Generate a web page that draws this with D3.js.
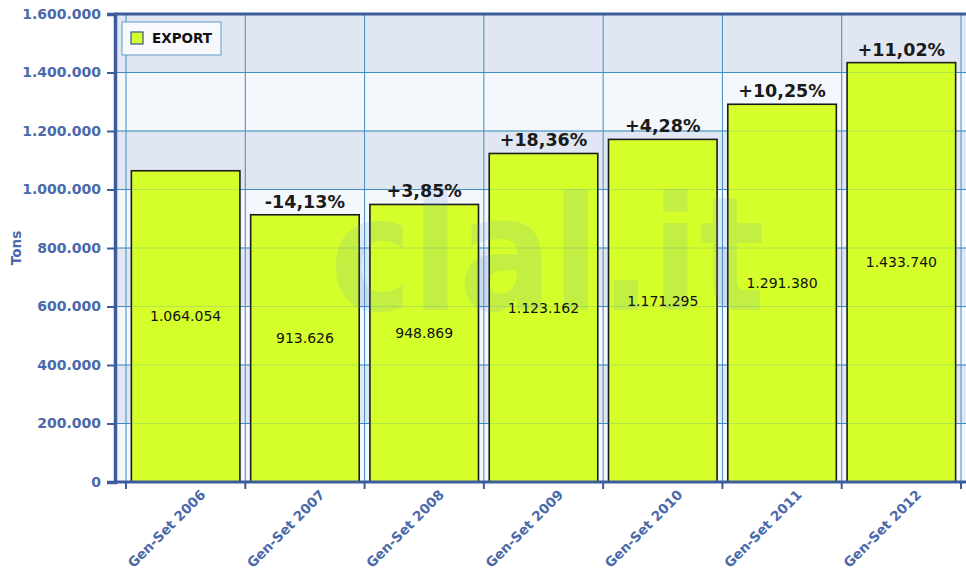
<!DOCTYPE html>
<html>
<head>
<meta charset="utf-8">
<script src="https://cdn.jsdelivr.net/npm/d3@7"></script>
<style>
  body { margin: 0; background: #fff; }
  text { font-family: "DejaVu Sans", Verdana, sans-serif; }
</style>
</head>
<body>
<svg width="966" height="577"></svg>
<script>
  // data
  const categories = ["Gen-Set 2006", "Gen-Set 2007", "Gen-Set 2008", "Gen-Set 2009", "Gen-Set 2010", "Gen-Set 2011", "Gen-Set 2012"];
  const exportTons = [1064054, 913626, 948869, 1123162, 1171295, 1291380, 1433740];
  const changeLabels = ["", "-14,13%", "+3,85%", "+18,36%", "+4,28%", "+10,25%", "+11,02%"];
  const yTicks = [0, 200000, 400000, 600000, 800000, 1000000, 1200000, 1400000, 1600000];

  const svg = d3.select("svg"),
      width = +svg.attr("width"),
      height = +svg.attr("height");

  const axisBlue = "#3d5c9c",
      labelBlue = "#4a69a9",
      gridBlue = "#3f8fc0";

  const it = d3.formatLocale({ decimal: ",", thousands: ".", grouping: [3], currency: ["", ""] });
  const fmt = it.format(",d");

  const plotLeft = 115, plotTop = 14, plotBottom = 482;

  const y = d3.scaleLinear()
      .domain([0, 1600000])
      .range([plotBottom, plotTop]);

  const x = d3.scaleBand()
      .domain(categories)
      .range([126, 961])
      .paddingInner(0.09)
      .paddingOuter(0.045);
  const step = x.step();

  // background bands
  const bands = yTicks.slice(0, -1);
  svg.append("g")
      .selectAll("rect")
      .data(bands)
      .join("rect")
      .attr("x", plotLeft)
      .attr("width", width - plotLeft)
      .attr("y", d => y(d + 200000))
      .attr("height", d => y(d) - y(d + 200000))
      .attr("fill", (d, i) => i % 2 ? "#e0e7f2" : "#f4f7fc");

  // grid under bars
  const grid = svg.append("g");
  grid.selectAll("line.h")
      .data(yTicks.slice(1))
      .join("line")
      .attr("class", "h")
      .attr("x1", plotLeft).attr("x2", width)
      .attr("y1", d => y(d)).attr("y2", d => y(d))
      .attr("stroke", gridBlue).attr("stroke-width", 1);
  const vlines = d3.range(categories.length + 1).map(i => 126 + i * step);
  grid.selectAll("line.v")
      .data(vlines)
      .join("line")
      .attr("class", "v")
      .attr("x1", d => d).attr("x2", d => d)
      .attr("y1", plotTop).attr("y2", plotBottom)
      .attr("stroke", gridBlue).attr("stroke-width", 1);

  // bars
  svg.append("g")
      .selectAll("rect")
      .data(exportTons)
      .join("rect")
      .attr("x", (d, i) => x(categories[i]))
      .attr("width", x.bandwidth())
      .attr("y", d => y(d))
      .attr("height", d => y(0) - y(d))
      .attr("fill", "#d4ff2a")
      .attr("stroke", "#1c1c1c")
      .attr("stroke-width", 1.6);

  // faint grid over bars
  svg.append("g")
      .selectAll("line")
      .data(yTicks.slice(1))
      .join("line")
      .attr("x1", plotLeft).attr("x2", width)
      .attr("y1", d => y(d)).attr("y2", d => y(d))
      .attr("stroke", gridBlue).attr("stroke-opacity", 0.22);

  // watermark
  svg.append("text")
      .attr("x", 330)
      .attr("y", 310)
      .attr("textLength", 435)
      .attr("lengthAdjust", "spacingAndGlyphs")
      .style("font-size", "158px")
      .style("font-weight", "bold")
      .attr("fill", "#5f86d6")
      .attr("fill-opacity", 0.14)
      .text("clal.it");

  // value labels
  svg.append("g")
      .selectAll("text")
      .data(exportTons)
      .join("text")
      .attr("x", (d, i) => x(categories[i]) + x.bandwidth() / 2)
      .attr("y", d => (y(d) + y(0)) / 2 - 10)
      .attr("dy", "0.35em")
      .attr("text-anchor", "middle")
      .style("font-size", "14px")
      .attr("fill", "#111")
      .text(d => fmt(d));

  // change labels
  svg.append("g")
      .selectAll("text")
      .data(changeLabels)
      .join("text")
      .attr("x", (d, i) => x(categories[i]) + x.bandwidth() / 2)
      .attr("y", (d, i) => y(exportTons[i]) - 7)
      .attr("text-anchor", "middle")
      .style("font-size", "17.5px")
      .style("font-weight", "bold")
      .attr("fill", "#1a1a1a")
      .text(d => d);

  // y axis
  const yAxis = svg.append("g")
      .attr("transform", `translate(${plotLeft},0)`)
      .call(d3.axisLeft(y).tickValues(yTicks).tickFormat(fmt).tickSize(8).tickPadding(6));
  yAxis.select(".domain").attr("stroke", axisBlue).attr("stroke-width", 3.5);
  yAxis.selectAll(".tick line").attr("stroke", axisBlue).attr("stroke-width", 2);
  yAxis.selectAll(".tick text")
      .attr("fill", labelBlue)
      .style("font-size", "14px")
      .style("font-weight", "bold")
      .style("font-family", "'DejaVu Sans', Verdana, sans-serif");

  // top frame
  svg.append("line")
      .attr("x1", plotLeft - 1).attr("x2", width)
      .attr("y1", plotTop).attr("y2", plotTop)
      .attr("stroke", axisBlue).attr("stroke-width", 3);

  // x axis
  svg.append("line")
      .attr("x1", plotLeft - 1).attr("x2", width)
      .attr("y1", plotBottom).attr("y2", plotBottom)
      .attr("stroke", axisBlue).attr("stroke-width", 3);
  svg.append("g")
      .selectAll("line")
      .data(vlines)
      .join("line")
      .attr("x1", d => d).attr("x2", d => d)
      .attr("y1", plotBottom).attr("y2", plotBottom + 7)
      .attr("stroke", axisBlue).attr("stroke-width", 2);

  svg.append("g")
      .selectAll("text")
      .data(categories)
      .join("text")
      .attr("transform", d => `translate(${x(d) + x.bandwidth() / 2 + 14},${plotBottom + 7}) rotate(-45)`)
      .attr("text-anchor", "end")
      .attr("dy", "0.7em")
      .style("font-size", "13.5px")
      .style("font-weight", "bold")
      .attr("fill", labelBlue)
      .text(d => d);

  // y title
  svg.append("text")
      .attr("transform", `translate(21,248) rotate(-90)`)
      .attr("text-anchor", "middle")
      .style("font-size", "13.5px")
      .style("font-weight", "bold")
      .attr("fill", labelBlue)
      .text("Tons");

  // legend
  const legend = svg.append("g").attr("transform", "translate(122,22)");
  legend.append("rect")
      .attr("width", 99).attr("height", 33)
      .attr("fill", "#f7f9fd")
      .attr("stroke", "#5c9fc9").attr("stroke-width", 1);
  legend.append("rect")
      .attr("x", 9).attr("y", 10)
      .attr("width", 12).attr("height", 12)
      .attr("fill", "#d4ff2a")
      .attr("stroke", "#36598a").attr("stroke-width", 1.2);
  legend.append("text")
      .attr("x", 30).attr("y", 16)
      .attr("dy", "0.35em")
      .style("font-size", "13.5px")
      .style("font-weight", "bold")
      .attr("fill", "#111")
      .text("EXPORT");
</script>
</body>
</html>
